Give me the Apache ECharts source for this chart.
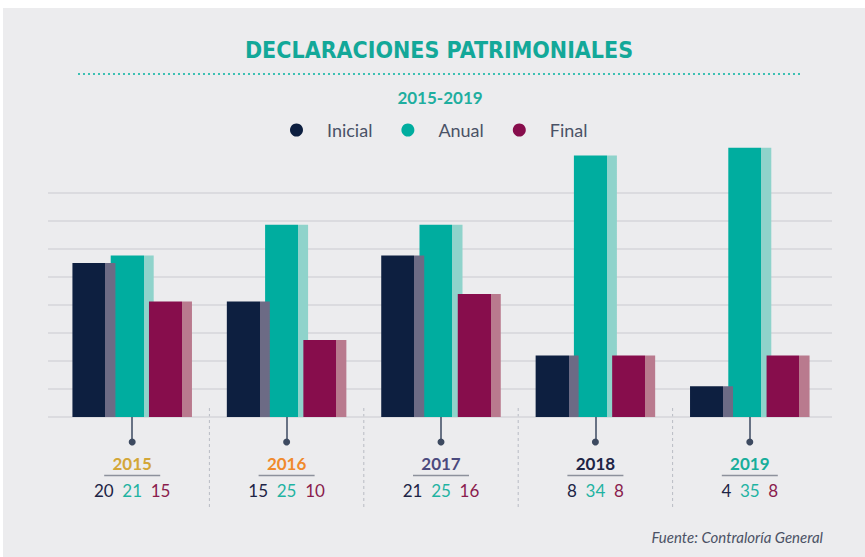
<!DOCTYPE html>
<html>
<head>
<meta charset="utf-8">
<script src="https://cdn.jsdelivr.net/npm/echarts@6/dist/echarts.min.js"></script>
<style>
  html, body { margin: 0; padding: 0; background: #ffffff; }
  #chart { width: 865px; height: 557px; }
</style>
</head>
<body>
<div id="chart"></div>
<script>
// Declaraciones patrimoniales por año y tipo
const years = ['2015', '2016', '2017', '2018', '2019'];
const inicial = [20, 15, 21, 8, 4];
const anual = [21, 25, 25, 34, 35];
const final = [15, 10, 16, 8, 8];
const seriesNames = ['Inicial', 'Anual', 'Final'];

const yearColors = ['#d3a637', '#f08a2c', '#4b4a7e', '#1d2445', '#17ae9b'];
const mainColors = ['#0d1f40', '#00ad9f', '#870d4c'];
const sideColors = ['#6c6b85', '#8fd3cb', '#b97a8e'];
const numColors = ['#1d2445', '#1fb3a2', '#8a1c4d'];

const chart = echarts.init(document.getElementById('chart'), null, { renderer: 'svg' });

// bar face plus a lighter strip on the right edge
function faceSide(main, side) {
  return new echarts.graphic.LinearGradient(0, 0, 1, 0, [
    { offset: 0, color: main },
    { offset: 0.765, color: main },
    { offset: 0.765, color: side },
    { offset: 1, color: side }
  ]);
}

const rich = {
  ul: { width: 56, height: 1.5, backgroundColor: '#8d919c', lineHeight: 3 },
  a: { color: numColors[0], fontSize: 17, fontFamily: 'Lato', lineHeight: 26 },
  b: { color: numColors[1], fontSize: 17, fontFamily: 'Lato', lineHeight: 26 },
  c: { color: numColors[2], fontSize: 17, fontFamily: 'Lato', lineHeight: 26 }
};
yearColors.forEach((c, i) => {
  rich['y' + i] = { color: c, fontSize: 17, fontWeight: 'bold', fontFamily: 'Lato', lineHeight: 22 };
});

const seriesData = [inicial, anual, final];

const option = {
  backgroundColor: '#ececee',
  animation: false,
  legend: {
    left: 285,
    top: 116,
    itemWidth: 51,
    itemHeight: 13,
    itemGap: 29,
    icon: 'circle',
    textStyle: { color: '#4a5266', fontSize: 18, fontFamily: 'Lato' },
    data: seriesNames.map((n, i) => ({ name: n, itemStyle: { color: mainColors[i] } }))
  },
  grid: [
    { left: 55, right: 38, top: 140, bottom: 140 },
    { left: 48, right: 33, top: 193, bottom: 140 }
  ],
  xAxis: [
    {
      type: 'category',
      gridIndex: 0,
      data: years,
      axisLine: { show: false },
      axisTick: { show: true, interval: 0, alignWithLabel: true, length: 25, lineStyle: { color: '#3d4a60', width: 1.5 } },
      axisLabel: {
        interval: 0,
        margin: 35,
        fontSize: 17,
        fontFamily: 'Lato',
        lineHeight: 26,
        color: '#1d2445',
        formatter: (v, i) => `{y${i}|${v}}\n{ul|}\n{a|${inicial[i]}}  {b|${anual[i]}}  {c|${final[i]}}`,
        rich: rich
      }
    },
    { type: 'value', gridIndex: 1, min: 0, max: 1, show: false }
  ],
  yAxis: [
    { type: 'value', gridIndex: 0, min: 0, max: 36, show: false },
    {
      type: 'value', gridIndex: 1, min: 0, max: 8, interval: 1,
      axisLine: { show: false }, axisTick: { show: false }, axisLabel: { show: false },
      splitLine: { show: true, lineStyle: { color: '#d6d6da', width: 1.6 } }
    }
  ],
  series: seriesNames.map((n, i) => ({
    name: n,
    type: 'bar',
    xAxisIndex: 0,
    yAxisIndex: 0,
    barWidth: 43,
    barGap: '-11%',
    z: i === 1 ? 2 : 3,
    itemStyle: { color: faceSide(mainColors[i], sideColors[i]) },
    data: seriesData[i]
  })),
  graphic: {
    elements: [
      { type: 'rect', id: 'topEdge', shape: { x: 0, y: 0, width: 865, height: 8 }, style: { fill: '#ffffff' } },
      { type: 'rect', id: 'leftEdge', shape: { x: 0, y: 0, width: 3, height: 557 }, style: { fill: '#ffffff' } },
      {
        type: 'text', id: 'title', x: 439, y: 50,
        style: {
          text: 'DECLARACIONES PATRIMONIALES', fill: '#13a899',
          font: 'bold 23px "Liberation Sans Narrow", "DejaVu Sans Condensed", sans-serif',
          textAlign: 'center', textVerticalAlign: 'middle'
        }
      },
      {
        type: 'line', id: 'titleRule',
        shape: { x1: 78, y1: 74, x2: 802, y2: 74 },
        style: { stroke: '#3cc0b3', lineWidth: 2, lineDash: [2, 3] }
      },
      {
        type: 'text', id: 'subtitle', x: 440, y: 97,
        style: {
          text: '2015-2019', fill: '#1fae9f',
          font: 'bold 17px Lato, sans-serif',
          textAlign: 'center', textVerticalAlign: 'middle'
        }
      },
      {
        type: 'text', id: 'source', x: 823, y: 537,
        style: {
          text: 'Fuente: Contraloría General', fill: '#4b5265',
          font: 'italic 15px Lato, sans-serif',
          textAlign: 'right', textVerticalAlign: 'middle'
        }
      }
    ]
  }
};

chart.setOption(option);

// pin dots under each year and dashed dividers between the year groups
const centers = years.map(y => chart.convertToPixel({ xAxisIndex: 0 }, y));
const extra = [];
centers.forEach((cx, i) => {
  extra.push({
    type: 'circle', id: 'pin' + i,
    shape: { cx: cx, cy: 442, r: 3.5 },
    style: { fill: '#3d4a60' }
  });
  if (i > 0) {
    const mx = (centers[i - 1] + cx) / 2;
    extra.push({
      type: 'line', id: 'div' + i,
      shape: { x1: mx, y1: 408, x2: mx, y2: 508 },
      style: { stroke: '#b9bcc4', lineWidth: 1, lineDash: [3, 3] }
    });
  }
});
chart.setOption({ graphic: { elements: extra } });
</script>
</body>
</html>
